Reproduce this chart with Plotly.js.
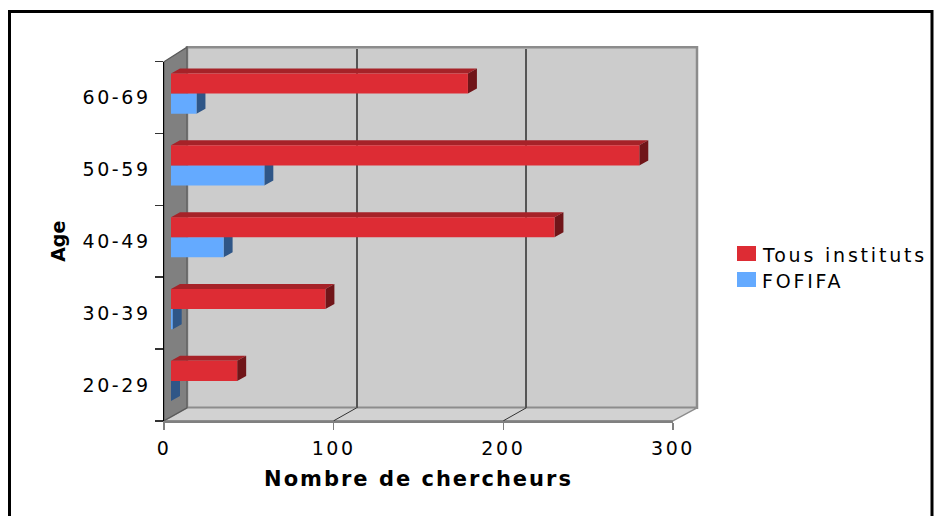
<!DOCTYPE html>
<html><head><meta charset="utf-8">
<script src="https://cdn.plot.ly/plotly-3.0.1.min.js"></script>
<style>
html,body{margin:0;padding:0;background:#fff;}
#chart{width:936px;height:516px;}
.xtick text, .ytick text { letter-spacing: 2.6px; }
text.xtitle { letter-spacing: 2px; }
.annotation text { letter-spacing: 2.8px; }
</style></head><body><div id="chart"></div>
<script>
// ---- data ----
const ageGroups = ['20-29', '30-39', '40-49', '50-59', '60-69'];
const seriesNames = ['Tous instituts', 'FOFIFA'];
const tousInstituts = [39, 91, 226, 276, 175];
const fofifa = [0, 1, 31, 55, 15];
const xTickVals = [0, 100, 200, 300];
const xTickText = ['0', '100', '200', '300'];
const xAxisTitle = 'Nombre de chercheurs';
const yAxisTitle = 'Age';

// ---- styling / geometry (pixels) ----
const W = 936, H = 516;
const px = x => x / W, py = y => 1 - y / H;
const front = {x0: 164, x1: 673, yTop: 61.7, yBot: 420.8};
const barShift = {dx: 7, dy: -4};
const backShift = {dx: 23, dy: -13};
const barDepth = {dx: 9, dy: -5};
const xRange = [0, 300];
const yRange = [-0.5, ageGroups.length - 0.5];
const barW = 0.28;
const RED = '#DD2C34', RED_TOP = '#A62228', RED_SIDE = '#701519';
const BLUE = '#64AAFF', BLUE_TOP = '#4A7FC0', BLUE_SIDE = '#2F5687';
const FONT = 'DejaVu Sans, Verdana, sans-serif';

const xScale = (front.x1 - front.x0) / (xRange[1] - xRange[0]);
const yScale = (front.yBot - front.yTop) / (yRange[1] - yRange[0]);
const dxU = barDepth.dx / xScale;
const dyU = -barDepth.dy / yScale;
const idx = ageGroups.map((_, i) => i);

function dom(shift) {
  return {
    x: [px(front.x0 + shift.dx), px(front.x1 + shift.dx)],
    y: [py(front.yBot + shift.dy), py(front.yTop + shift.dy)]
  };
}
const dBack = dom(backShift), dBar = dom(barShift), dFront = dom({dx: 0, dy: 0});

function faces(values, offset, kind) {
  const xs = [], ys = [];
  values.forEach((v, i) => {
    const b = i + offset, t = i + offset + barW;
    if (kind === 'top') {
      xs.push(0, v, v + dxU, dxU, null);
      ys.push(t, t, t + dyU, t + dyU, null);
    } else {
      xs.push(v, v, v + dxU, v + dxU, null);
      ys.push(b, t, t + dyU, b + dyU, null);
    }
  });
  return {xs, ys};
}
function faceTrace(values, offset, kind, color) {
  const f = faces(values, offset, kind);
  return {type: 'scatter', mode: 'lines', x: f.xs, y: f.ys, fill: 'toself',
    fillcolor: color, line: {width: 0, color: color}, xaxis: 'x3', yaxis: 'y3',
    showlegend: false, hoverinfo: 'skip'};
}
// invisible anchor traces so the front-axis and back-wall subplots get drawn
function anchorTrace(xa, ya) {
  return {type: 'scatter', mode: 'markers', x: tousInstituts, y: idx, marker: {opacity: 0, size: 1},
    xaxis: xa, yaxis: ya, showlegend: false, hoverinfo: 'skip'};
}

const traces = [
  anchorTrace('x', 'y'),
  anchorTrace('x2', 'y2'),
  faceTrace(fofifa, -barW, 'top', BLUE_TOP),
  faceTrace(fofifa, -barW, 'side', BLUE_SIDE),
  faceTrace(tousInstituts, 0, 'top', RED_TOP),
  faceTrace(tousInstituts, 0, 'side', RED_SIDE),
  {type: 'bar', orientation: 'h', name: seriesNames[1], y: idx, x: fofifa, width: barW, offset: -barW,
   marker: {color: BLUE, line: {width: 0}}, xaxis: 'x4', yaxis: 'y4', showlegend: false, hoverinfo: 'skip'},
  {type: 'bar', orientation: 'h', name: seriesNames[0], y: idx, x: tousInstituts, width: barW, offset: 0,
   marker: {color: RED, line: {width: 0}}, xaxis: 'x4', yaxis: 'y4', showlegend: false, hoverinfo: 'skip'}
];

// ---- walls ----
const P = (x, y) => px(x) + ',' + py(y);
const bx0 = front.x0 + backShift.dx, bx1 = front.x1 + backShift.dx;
const byT = front.yTop + backShift.dy, byB = front.yBot + backShift.dy;
const shapes = [
  {type: 'rect', xref: 'paper', yref: 'paper', x0: px(bx0), x1: px(bx1 + 1), y0: py(byB), y1: py(byT - 1.5),
   fillcolor: '#CCCCCC', line: {color: '#8C8C8C', width: 2.5}, layer: 'below'},
  {type: 'path', xref: 'paper', yref: 'paper', layer: 'below',
   path: 'M' + P(front.x0, front.yBot) + 'L' + P(front.x1, front.yBot) + 'L' + P(bx1 + 1, byB) + 'L' + P(bx0, byB) + 'Z',
   fillcolor: '#D2D2D2', line: {color: '#8C8C8C', width: 1.5}},
  {type: 'path', xref: 'paper', yref: 'paper', layer: 'below',
   path: 'M' + P(front.x0, front.yTop) + 'L' + P(bx0, byT - 1.5) + 'L' + P(bx0, byB) + 'L' + P(front.x0, front.yBot) + 'Z',
   fillcolor: '#808080', line: {color: '#5A5A5A', width: 1.2}},
  {type: 'rect', xref: 'paper', yref: 'paper', x0: px(9.5), x1: px(932), y0: py(530), y1: py(11.5),
   fillcolor: 'rgba(0,0,0,0)', line: {color: '#000', width: 3}, layer: 'above'}
];
xTickVals.slice(1, -1).forEach(t => {
  shapes.push({type: 'line', xref: 'paper', yref: 'paper', layer: 'below',
    x0: px(front.x0 + t * xScale), y0: py(front.yBot), x1: px(bx0 + t * xScale), y1: py(byB),
    line: {color: '#333', width: 1}});
});
const legendColors = [RED, BLUE];
const legendY = [253.5, 279.5];
const annotations = [];
seriesNames.forEach((n, i) => {
  shapes.push({type: 'rect', xref: 'paper', yref: 'paper', x0: px(737), x1: px(756),
    y0: py(legendY[i] + 7.5), y1: py(legendY[i] - 7.5), fillcolor: legendColors[i], line: {width: 0}});
  annotations.push({xref: 'paper', yref: 'paper', x: px(760), y: py(legendY[i] + 1), xanchor: 'left', yanchor: 'middle',
    align: 'left', text: n, showarrow: false, font: {family: FONT, size: 19, color: '#000'}});
});

const hidden = {visible: true, showgrid: false, zeroline: false, showline: false, showticklabels: false, ticks: '', fixedrange: true};
const layout = {
  width: W, height: H, margin: {l: 0, r: 0, t: 0, b: 0, pad: 0},
  paper_bgcolor: '#FFFFFF', plot_bgcolor: 'rgba(0,0,0,0)',
  showlegend: false, hovermode: false, barmode: 'overlay',
  font: {family: FONT, color: '#000'},
  xaxis: {domain: dFront.x, range: xRange, anchor: 'y', tickmode: 'array', tickvals: xTickVals, ticktext: xTickText,
    ticks: 'outside', ticklen: 7, tickwidth: 1.5, tickcolor: '#808080', showline: true, linecolor: '#808080', linewidth: 2,
    showgrid: false, zeroline: false, tickfont: {family: FONT, size: 19, color: '#000'}, ticklabelstandoff: 2,
    title: {text: xAxisTitle, font: {family: FONT, size: 21, weight: 700, color: '#000'}, standoff: 14}},
  yaxis: {domain: dFront.y, range: yRange, anchor: 'x', tickmode: 'array', tickvals: idx, ticktext: ageGroups,
    ticks: '', showline: true, linecolor: '#000', linewidth: 1.5, showgrid: false, zeroline: false,
    minor: {tickmode: 'array', tickvals: idx.concat([ageGroups.length]).map(i => i - 0.5), ticks: 'outside', ticklen: 8, tickwidth: 1.5, tickcolor: '#333', showgrid: false},
    tickfont: {family: FONT, size: 19, color: '#000'}, ticklabelstandoff: 8,
    title: {text: yAxisTitle, font: {family: FONT, size: 19, weight: 700, color: '#000'}, standoff: 12}},
  xaxis2: Object.assign({}, hidden, {domain: dBack.x, range: xRange, anchor: 'y2', showgrid: true, tickmode: 'array',
    tickvals: xTickVals.slice(1, -1), gridcolor: '#555555', gridwidth: 2}),
  yaxis2: Object.assign({}, hidden, {domain: dBack.y, range: yRange, anchor: 'x2'}),
  xaxis3: Object.assign({}, hidden, {domain: dBar.x, range: xRange, anchor: 'y3'}),
  yaxis3: Object.assign({}, hidden, {domain: dBar.y, range: yRange, anchor: 'x3'}),
  xaxis4: Object.assign({}, hidden, {domain: dBar.x, range: xRange, anchor: 'y4'}),
  yaxis4: Object.assign({}, hidden, {domain: dBar.y, range: yRange, anchor: 'x4'}),
  shapes: shapes, annotations: annotations
};
Plotly.newPlot('chart', traces, layout, {staticPlot: true, displayModeBar: false});
</script></body></html>
